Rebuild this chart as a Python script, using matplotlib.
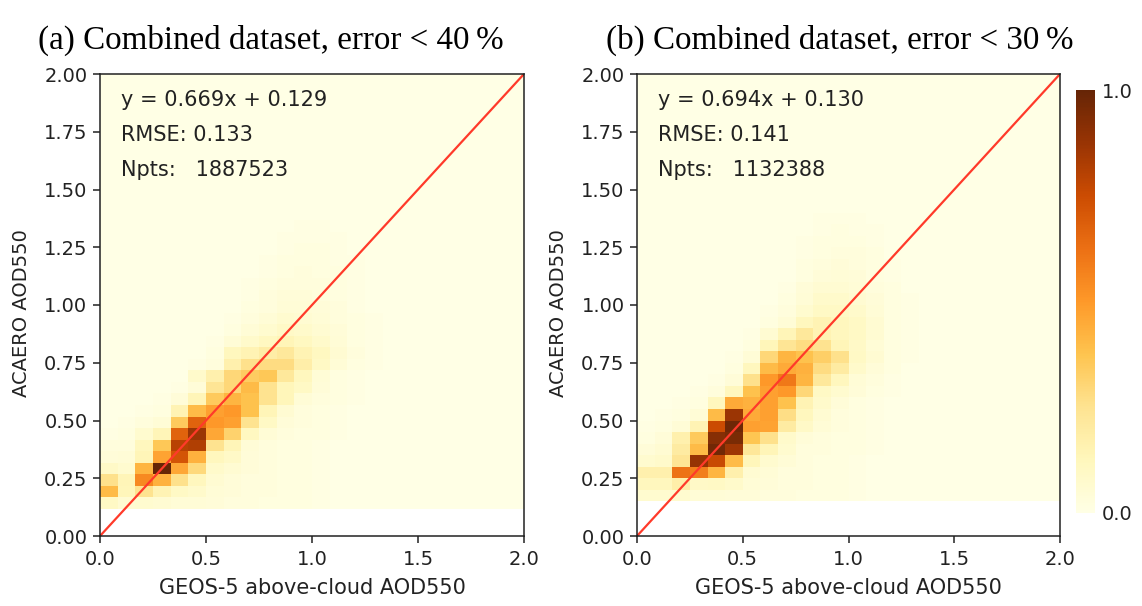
import matplotlib
matplotlib.use('Agg')
import matplotlib.pyplot as plt
import numpy as np

W, H = 1142, 606

# normalised density, one list per row (bottom row first), trailing zeros left out
density_a = [
    [.10,.06,.07,.06,.05,.05,.04,.03,.03,.02,.02,.02,.01],
    [.40,.13,.25,.15,.10,.08,.05,.04,.03,.03,.02,.02,.01],
    [.26,.14,.55,.43,.26,.12,.06,.04,.03,.03,.02,.02,.01],
    [.09,.07,.42,1.0,.46,.29,.08,.06,.04,.03,.02,.02,.01],
    [.04,.05,.14,.47,.72,.43,.12,.09,.04,.03,.02,.02,.01],
    [.03,.03,.12,.36,.80,.82,.25,.14,.05,.03,.02,.02,.01],
    [.01,.02,.07,.14,.67,.87,.46,.32,.11,.05,.03,.02,.02,.01],
    [0,.01,.03,.05,.35,.67,.50,.48,.25,.10,.04,.03,.02,.01],
    [0,0,.01,.02,.15,.40,.48,.50,.38,.14,.06,.03,.02,.01],
    [0,0,0,.01,.04,.14,.35,.42,.38,.25,.13,.05,.03,.02,.01],
    [0,0,0,0,.01,.04,.24,.30,.40,.25,.13,.10,.04,.02,.01],
    [0,0,0,0,0,.08,.17,.30,.34,.36,.22,.12,.05,.02,.01],
    [0,0,0,0,0,.01,.03,.17,.26,.28,.28,.18,.10,.05,.02,.01],
    [0,0,0,0,0,0,.02,.12,.15,.19,.22,.15,.11,.06,.03,.01],
    [0,0,0,0,0,0,.01,.05,.08,.11,.14,.11,.08,.05,.02,.01],
    [0,0,0,0,0,0,0,.02,.05,.07,.09,.08,.06,.04,.02,.01],
    [0,0,0,0,0,0,0,.01,.03,.05,.07,.06,.05,.03,.02,.01],
    [0,0,0,0,0,0,0,0,.02,.03,.05,.05,.04,.03,.01],
    [0,0,0,0,0,0,0,0,.01,.03,.04,.04,.03,.02,.01],
    [0,0,0,0,0,0,0,0,.01,.02,.03,.03,.03,.02,.01],
    [0,0,0,0,0,0,0,0,0,.01,.02,.03,.02,.02,.01],
    [0,0,0,0,0,0,0,0,0,.01,.02,.02,.02,.01,.01],
    [0,0,0,0,0,0,0,0,0,0,.01,.02,.02,.01],
    [0,0,0,0,0,0,0,0,0,0,.01,.01,.01,.01],
    [0,0,0,0,0,0,0,0,0,0,0,.01,.01],
]
density_b = [
    [.07,.07,.07,.05,.05,.04,.04,.03,.03,.02,.02,.02,.01],
    [.12,.12,.18,.09,.10,.08,.05,.04,.03,.03,.02,.02,.01],
    [.17,.17,.62,.58,.42,.17,.06,.05,.03,.03,.02,.02,.01],
    [.07,.08,.24,.88,.76,.40,.13,.07,.05,.03,.02,.02,.01],
    [.04,.06,.20,.40,.97,.86,.23,.14,.07,.03,.03,.02,.02,.01],
    [.02,.04,.17,.35,.92,.95,.37,.26,.08,.04,.03,.02,.02,.01],
    [.01,.02,.05,.15,.75,.98,.48,.47,.20,.09,.05,.03,.02,.01],
    [0,.01,.02,.05,.40,.87,.45,.48,.27,.12,.06,.03,.02,.01],
    [0,0,.01,.02,.12,.45,.43,.48,.38,.15,.08,.04,.02,.01],
    [0,0,0,.01,.03,.12,.38,.48,.50,.30,.10,.07,.04,.02,.01],
    [0,0,0,0,.01,.04,.26,.50,.60,.42,.22,.12,.05,.03,.01],
    [0,0,0,0,0,.02,.12,.40,.45,.43,.28,.20,.08,.04,.02],
    [0,0,0,0,0,.01,.05,.30,.42,.38,.33,.26,.10,.06,.02,.01],
    [0,0,0,0,0,0,.02,.13,.24,.28,.25,.14,.09,.05,.02,.01],
    [0,0,0,0,0,0,.01,.06,.14,.22,.15,.12,.10,.06,.02,.01],
    [0,0,0,0,0,0,0,.02,.05,.12,.15,.12,.10,.06,.02,.01],
    [0,0,0,0,0,0,0,.01,.03,.07,.10,.10,.08,.05,.02,.01],
    [0,0,0,0,0,0,0,0,.02,.05,.08,.08,.06,.04,.02,.01],
    [0,0,0,0,0,0,0,0,.01,.04,.06,.06,.05,.03,.02],
    [0,0,0,0,0,0,0,0,0,.02,.04,.05,.04,.02,.01],
    [0,0,0,0,0,0,0,0,0,.02,.03,.04,.03,.02,.01],
    [0,0,0,0,0,0,0,0,0,.01,.02,.03,.03,.02],
    [0,0,0,0,0,0,0,0,0,.01,.02,.02,.02,.01],
    [0,0,0,0,0,0,0,0,0,0,.01,.02,.01,.01],
    [0,0,0,0,0,0,0,0,0,0,.01,.01,.01],
]

titles = ['(a) Combined dataset, error < 40\u2009%', '(b) Combined dataset, error < 30\u2009%']
title_left = [38, 606]
fit_text = ['y = 0.669x + 0.129', 'y = 0.694x + 0.130']
rmse_text = ['RMSE: 0.133', 'RMSE: 0.141']
npts_text = ['Npts:   1887523', 'Npts:   1132388']
y_start = [0.117, 0.15]
x_ticks = [0.0, 0.5, 1.0, 1.5, 2.0]
y_ticks = [0.0, 0.25, 0.5, 0.75, 1.0, 1.25, 1.5, 1.75, 2.0]
ncols, nrows = 24, 40
ink = '#222222'


def to_grid(rows):
    grid = np.zeros((nrows, ncols))
    for i, row in enumerate(rows):
        grid[i, :len(row)] = row
    return grid


def box(left, top, right, bottom):
    return [left / W, 1 - bottom / H, (right - left) / W, (bottom - top) / H]


fig = plt.figure(figsize=(W / 100, H / 100), dpi=100)
panels = [(box(100, 74, 524, 536), density_a), (box(637, 74, 1060, 536), density_b)]

for i, (pos, rows) in enumerate(panels):
    ax = fig.add_axes(pos)
    xedges = np.linspace(0, 2, ncols + 1)
    yedges = y_start[i] + 0.05 * np.arange(nrows + 1)
    mesh = ax.pcolormesh(xedges, yedges, to_grid(rows), cmap='YlOrBr', vmin=0, vmax=1)
    ax.plot([0, 2], [0, 2], color='#ff3a2a', lw=1.6)
    ax.set_xlim(0, 2)
    ax.set_ylim(0, 2)
    ax.set_xticks(x_ticks)
    ax.set_yticks(y_ticks)
    ax.set_xticklabels(['%.1f' % v for v in x_ticks])
    ax.set_yticklabels(['%.2f' % v for v in y_ticks])
    ax.tick_params(labelsize=14, colors=ink, length=5, width=1.1, pad=4)
    ax.tick_params(axis='x', pad=5)
    for s in ax.spines.values():
        s.set_linewidth(1.1)
        s.set_color('#222222')
    ax.set_xlabel('GEOS-5 above-cloud AOD550', fontsize=15, color=ink, labelpad=6.5)
    ax.set_ylabel('ACAERO AOD550', fontsize=14, color=ink, labelpad=9, y=0.483)
    ax.text(0.05, 0.943, fit_text[i], transform=ax.transAxes, fontsize=15, color=ink, va='center')
    ax.text(0.05, 0.868, rmse_text[i], transform=ax.transAxes, fontsize=15, color=ink, va='center')
    ax.text(0.05, 0.793, npts_text[i], transform=ax.transAxes, fontsize=15, color=ink, va='center')
    fig.text(title_left[i] / W, 1 - 40 / H, titles[i], family='Liberation Serif', fontsize=23.8,
             color='black', va='center')

cax = fig.add_axes(box(1076, 90, 1095, 513))
cbar = fig.colorbar(mesh, cax=cax, ticks=[0, 1])
cbar.outline.set_visible(False)
cbar.ax.tick_params(length=0, labelsize=14, colors=ink, pad=5)
cbar.ax.set_yticklabels(['0.0', '1.0'])

fig.savefig('out.png', dpi=100)
